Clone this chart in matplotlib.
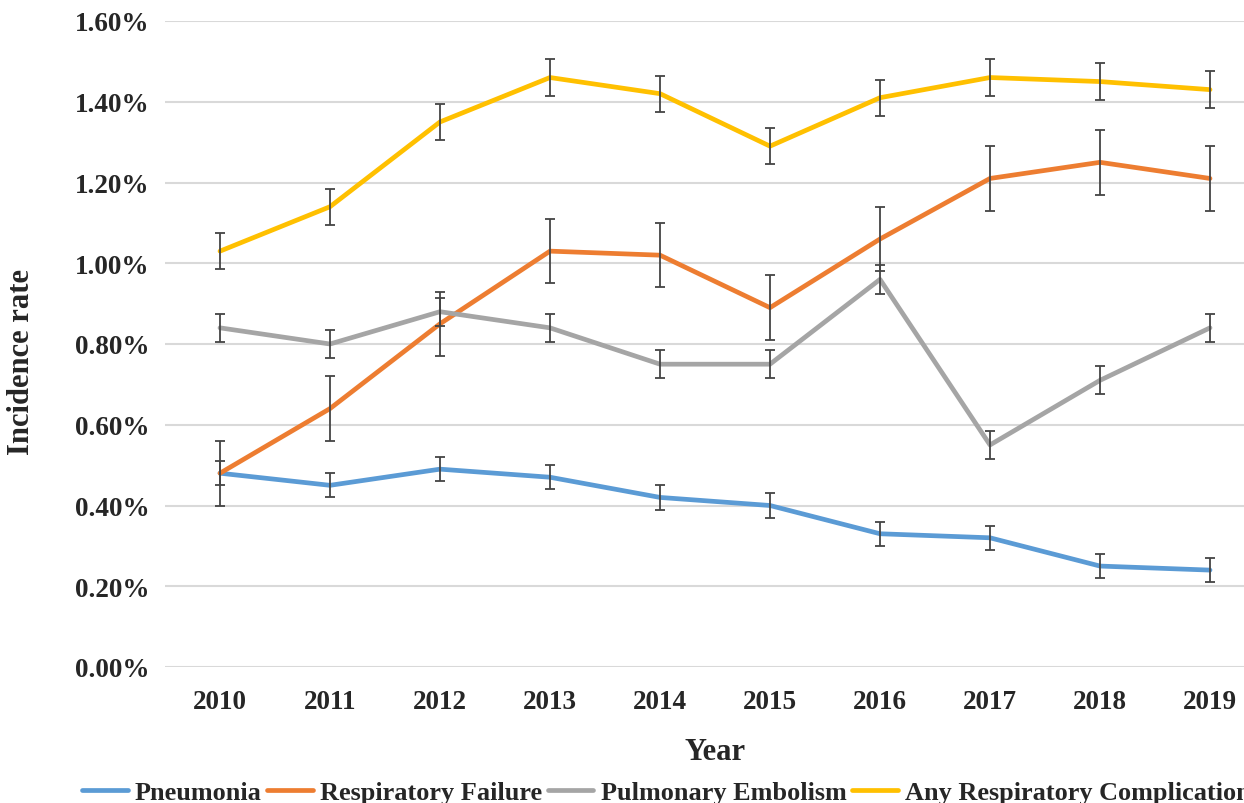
import numpy as np
import matplotlib.pyplot as plt

plt.rcParams['font.family'] = ['Liberation Serif', 'DejaVu Serif']
plt.rcParams['font.weight'] = 'bold'

years = ['2010', '2011', '2012', '2013', '2014', '2015', '2016', '2017', '2018', '2019']

# incidence rates in percent
pneumonia = [0.48, 0.45, 0.49, 0.47, 0.42, 0.40, 0.33, 0.32, 0.25, 0.24]
resp_failure = [0.48, 0.64, 0.85, 1.03, 1.02, 0.89, 1.06, 1.21, 1.25, 1.21]
pulm_embolism = [0.84, 0.80, 0.88, 0.84, 0.75, 0.75, 0.96, 0.55, 0.71, 0.84]
any_resp = [1.03, 1.14, 1.35, 1.46, 1.42, 1.29, 1.41, 1.46, 1.45, 1.43]

# half-width of the error bars, in percent
pneumonia_err = [0.03] * 10
resp_failure_err = [0.08] * 10
pulm_embolism_err = [0.035] * 10
any_resp_err = [0.045] * 10

series = [
    ('Pneumonia', pneumonia, pneumonia_err, '#5B9BD5'),
    ('Respiratory Failure', resp_failure, resp_failure_err, '#ED7D31'),
    ('Pulmonary Embolism', pulm_embolism, pulm_embolism_err, '#A5A5A5'),
    ('Any Respiratory Complications', any_resp, any_resp_err, '#FFC000'),
]

fig = plt.figure(figsize=(12.44, 8.04), dpi=100)
# plot area runs a little past the right edge of the figure
ax = fig.add_axes([165 / 1244, 1 - 668 / 804, 1100 / 1244, (668 - 22) / 804])

x = np.arange(len(years))
handles = []
for name, vals, err, color in series:
    h, = ax.plot(x, vals, color=color, lw=3.4, label=name, zorder=3,
                 solid_capstyle='round')
    handles.append(h)
for name, vals, err, color in series:
    ax.errorbar(x, vals, yerr=err, fmt='none', ecolor='#444444',
                elinewidth=1.3, capsize=3.6, capthick=1.3, zorder=4)

ax.set_xlim(-0.5, 9.5)
ax.set_ylim(0, 1.6)
ax.set_yticks(np.arange(0, 1.61, 0.2))
ax.set_yticklabels([f'{v:.2f}%' for v in np.arange(0, 1.61, 0.2)])
ax.set_xticks(x)
ax.set_xticklabels(years)
ax.tick_params(axis='both', length=0, labelsize=19.5, colors='#262626')
ax.tick_params(axis='y', pad=11)
ax.tick_params(axis='x', pad=16)
ax.grid(axis='y', color='#D9D9D9', lw=1.5, zorder=0)
ax.set_axisbelow(True)
for s in ax.spines.values():
    s.set_visible(False)

fig.text(22 / 1244, 1 - 362 / 804, 'Incidence rate', rotation=90,
         ha='center', va='center', fontsize=22, color='#262626')
fig.text(715 / 1244, 1 - 753 / 804, 'Year', ha='center', va='center',
         fontsize=22, color='#262626')

leg = fig.legend(handles=handles, loc='center left',
                 bbox_to_anchor=(82 / 1244, 1 - 793 / 804), ncol=4,
                 frameon=False, fontsize=18.9, handlelength=1.75,
                 handletextpad=0.27, columnspacing=0.2, borderaxespad=0,
                 borderpad=0)
for t in leg.get_texts():
    t.set_color('#262626')

fig.savefig('out.png', dpi=100)
